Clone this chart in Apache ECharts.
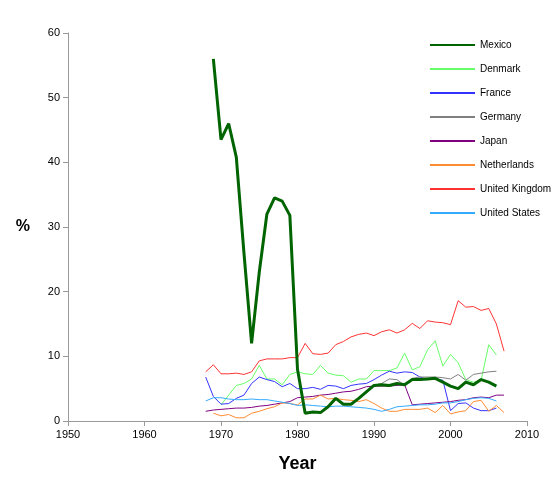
<!DOCTYPE html>
<html>
<head>
<meta charset="utf-8">
<script src="https://cdn.jsdelivr.net/npm/echarts@6/dist/echarts.min.js"></script>
<style>html,body{margin:0;padding:0;background:#fff}#chart{width:555px;height:500px}</style>
</head>
<body>
<div id="chart"></div>
<script>
var seriesNames = ['Mexico', 'Denmark', 'France', 'Germany', 'Japan', 'Netherlands', 'United Kingdom', 'United States'];
var colors = ['#006400', '#66ff66', '#3333ff', '#808080', '#800080', '#ff8c33', '#ff3333', '#33aaff'];
var startYears = [1969, 1970, 1968, 1990, 1968, 1969, 1968, 1968];
var mexico = [56, 43.5, 46, 40.8, 26, 12, 23, 32, 34.5, 34, 31.8, 8, 1.2, 1.4, 1.3, 2.2, 3.5, 2.6, 2.6, 3.5, 4.5, 5.5, 5.6, 5.5, 5.8, 5.6, 6.4, 6.4, 6.5, 6.6, 6.0, 5.4, 5.0, 6.0, 5.6, 6.4, 6.0, 5.4];
var denmark = [2.5, 4, 5.5, 5.8, 6.5, 8.6, 6.5, 6.5, 5.6, 7.2, 7.6, 7.3, 7.2, 8.6, 7.4, 7.1, 7.0, 6.0, 6.5, 6.5, 7.8, 7.8, 7.8, 8.2, 10.5, 7.9, 8.4, 11, 12.4, 8.5, 10.3, 9.0, 6.4, 6.0, 6.3, 11.8, 10.2];
var france = [6.8, 3.8, 2.6, 2.7, 3.5, 4.0, 5.8, 6.8, 6.4, 6.1, 5.3, 5.8, 5.0, 5.0, 5.2, 4.9, 5.5, 5.4, 5.0, 5.5, 5.7, 5.8, 6.4, 7.1, 7.7, 7.4, 7.6, 7.5, 6.8, 6.4, 6.5, 6.3, 1.6, 2.7, 2.8, 2.0, 1.6, 1.6, 2.0];
var germany = [5.5, 5.8, 6.5, 6.4, 5.5, 6.6, 6.8, 6.8, 6.8, 6.7, 6.5, 7.2, 6.3, 7.2, 7.4, 7.6, 7.7];
var japan = [1.5, 1.7, 1.8, 1.9, 2.0, 2.0, 2.1, 2.3, 2.4, 2.6, 2.8, 3.0, 3.6, 3.7, 3.8, 4.0, 4.1, 4.3, 4.5, 4.6, 4.9, 5.3, 5.4, 5.4, 5.4, 5.5, 5.6, 2.5, 2.6, 2.7, 2.8, 2.9, 3.0, 3.2, 3.3, 3.6, 3.7, 3.6, 4.0, 4.0];
var netherlands = [1.2, 0.8, 1.0, 0.5, 0.5, 1.2, 1.5, 1.9, 2.2, 2.8, 2.7, 2.5, 3.4, 3.4, 4.0, 3.4, 3.5, 3.3, 3.2, 3.0, 3.3, 2.7, 2.0, 1.5, 1.5, 1.8, 1.8, 1.8, 2.0, 1.3, 2.4, 1.1, 1.4, 1.6, 3.0, 3.2, 1.5, 2.4, 1.3];
var uk = [7.6, 8.7, 7.3, 7.3, 7.4, 7.2, 7.6, 9.3, 9.6, 9.6, 9.6, 9.8, 9.8, 12, 10.4, 10.3, 10.5, 11.8, 12.3, 13, 13.4, 13.6, 13.2, 13.8, 14.1, 13.6, 14.1, 15.1, 14.3, 15.5, 15.3, 15.2, 14.9, 18.6, 17.6, 17.7, 17.1, 17.4, 15, 10.8];
var us = [3.1, 3.6, 3.6, 3.4, 3.3, 3.3, 3.4, 3.3, 3.3, 3.1, 2.9, 2.7, 2.4, 2.5, 2.4, 2.3, 2.2, 2.3, 2.3, 2.2, 2.1, 2.0, 1.8, 1.5, 1.8, 2.2, 2.3, 2.4, 2.5, 2.5, 2.6, 2.8, 2.8, 3.0, 3.3, 3.5, 3.6, 3.5, 3.1];
var allData = [mexico, denmark, france, germany, japan, netherlands, uk, us];

var chart = echarts.init(document.getElementById('chart'));
var series = seriesNames.map(function (name, i) {
  return {
    name: name,
    type: 'line',
    showSymbol: false,
    symbol: 'none',
    lineStyle: { width: i === 0 ? 3 : 1, color: colors[i] },
    itemStyle: { color: colors[i] },
    data: allData[i].map(function (v, k) { return [startYears[i] + k, v]; }),
    z: i === 0 ? 3 : 2
  };
});
chart.setOption({
  animation: false,
  textStyle: { fontFamily: 'Liberation Sans, Arial, sans-serif' },
  grid: { left: 68, right: 28, top: 33, bottom: 79 },
  legend: {
    orient: 'vertical', left: 425, top: 35, itemGap: 14,
    itemWidth: 45, itemHeight: 10, icon: 'path://M0,4 L45,4 L45,6 L0,6 Z',
    textStyle: { fontSize: 10, color: '#000' },
    data: seriesNames
  },
  xAxis: {
    type: 'value', min: 1950, max: 2010, interval: 10,
    name: 'Year', nameLocation: 'middle', nameGap: 34,
    nameTextStyle: { fontSize: 18, fontWeight: 'bold', color: '#000' },
    axisLine: { lineStyle: { color: '#999' } },
    axisTick: { lineStyle: { color: '#999' } },
    axisLabel: { color: '#000', fontSize: 11, formatter: function (v) { return String(v); } },
    splitLine: { show: false }
  },
  yAxis: {
    type: 'value', min: 0, max: 60, interval: 10,
    name: '%', nameLocation: 'middle', nameGap: 38, nameRotate: 0,
    nameTextStyle: { fontSize: 16, fontWeight: 'bold', color: '#000' },
    axisLine: { show: true, lineStyle: { color: '#999' } },
    axisTick: { show: true, lineStyle: { color: '#999' } },
    axisLabel: { color: '#000', fontSize: 11 },
    splitLine: { show: false }
  },
  series: series
});
</script>
</body>
</html>
